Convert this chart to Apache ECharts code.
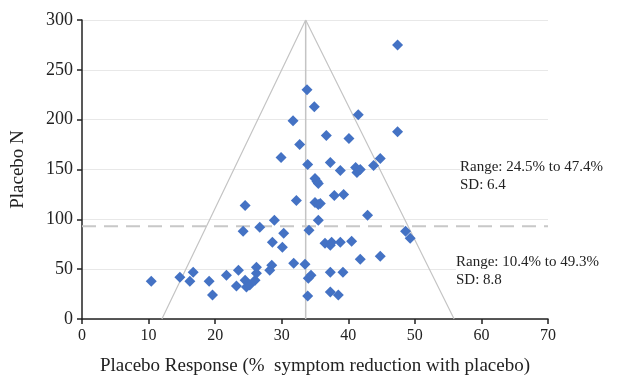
<!DOCTYPE html>
<html>
<head>
<meta charset="utf-8">
<script src="https://cdn.jsdelivr.net/npm/echarts@6/dist/echarts.min.js"></script>
<style>
  html, body { margin: 0; padding: 0; background: #fff; }
  #chart { width: 617px; height: 378px; }
</style>
</head>
<body>
<div id="chart"></div>
<script>
// placebo response (%) and placebo N for each trial
const responsePct = [
  10.4, 14.7, 16.2, 16.7, 19.1, 19.6, 21.7, 23.2, 23.5, 24.5,
  24.7, 25.2, 26.0, 26.2, 26.2, 24.2, 24.5, 26.7, 28.2, 28.5,
  28.6, 28.9, 29.9, 30.1, 30.3, 31.7, 31.8, 32.2, 32.7, 33.5,
  33.8, 33.9, 33.9, 34.1, 34.0, 34.4, 34.9, 35.0, 35.3, 35.5,
  35.0, 35.5, 35.8, 35.5, 36.5, 36.7, 37.3, 37.3, 37.5, 37.3,
  37.3, 37.9, 38.5, 38.8, 38.8, 39.2, 39.3, 40.1, 40.5, 41.1,
  41.3, 41.8, 41.5, 41.8, 42.9, 43.8, 44.8, 44.8, 47.4, 47.4,
  48.6, 49.3
]
const placeboN = [
  38, 42, 38, 47, 38, 24, 44, 33, 49, 39,
  32, 34, 39, 46, 52, 88, 114, 92, 49, 54,
  77, 99, 162, 72, 86, 199, 56, 119, 175, 55,
  230, 155, 23, 89, 41, 44, 213, 141, 138, 136,
  117, 115, 116, 99, 76, 184, 157, 74, 77, 47,
  27, 124, 24, 149, 77, 47, 125, 181, 78, 152,
  147, 150, 205, 60, 104, 154, 161, 63, 188, 275,
  88, 81
]

// funnel outline and reference lines
const funnelX = [12, 33.6, 55.9]
const funnelY = [0, 300, 0]
const meanResponse = 33.6
const splitN = 93

const xTicks = [0, 10, 20, 30, 40, 50, 60, 70]

const chart = echarts.init(document.getElementById("chart"), null, { renderer: "canvas" })

const serif = "'Liberation Serif', 'DejaVu Serif', serif"
const blue = "#4472c4"

chart.setOption({
  animation: false,
  grid: { left: 82, right: 69, top: 20, bottom: 59, outerBoundsMode: "none" },
  xAxis: {
    type: "value",
    min: xTicks[0],
    max: xTicks[xTicks.length - 1],
    interval: 10,
    name: "Placebo Response (%  symptom reduction with placebo)",
    nameLocation: "middle",
    nameGap: 38,
    nameTextStyle: { fontFamily: serif, fontSize: 19, color: "#222" },
    axisLine: { lineStyle: { color: "#222", width: 1.5 } },
    axisTick: { show: true, inside: false, length: 5, lineStyle: { color: "#222", width: 1.5 } },
    axisLabel: { fontFamily: serif, fontSize: 16, color: "#222", margin: 9 },
    splitLine: { show: false },
  },
  yAxis: {
    type: "value",
    min: 0,
    max: 300,
    interval: 50,
    name: "Placebo N",
    nameLocation: "middle",
    nameGap: 54,
    nameRotate: 90,
    nameTextStyle: { fontFamily: serif, fontSize: 19, color: "#222" },
    axisLine: { show: true, lineStyle: { color: "#222", width: 1.5 } },
    axisTick: { show: true, inside: false, length: 5, lineStyle: { color: "#222", width: 1.5 } },
    axisLabel: { fontFamily: serif, fontSize: 18, color: "#222", margin: 9 },
    splitLine: { show: true, lineStyle: { color: "#e8e8e8", width: 1 } },
  },
  series: [
    {
      type: "line",
      data: funnelX.map((x, i) => [x, funnelY[i]]),
      symbol: "none",
      lineStyle: { color: "#c4c4c4", width: 1.2 },
      z: 1,
    },
    {
      type: "line",
      data: [[meanResponse, 0], [meanResponse, 300]],
      symbol: "none",
      lineStyle: { color: "#c4c4c4", width: 1.5 },
      z: 1,
    },
    {
      type: "line",
      data: [[xTicks[0], splitN], [xTicks[xTicks.length - 1], splitN]],
      symbol: "none",
      lineStyle: { color: "#c8c8c8", width: 2, type: [14, 8] },
      z: 1,
    },
    {
      type: "scatter",
      data: responsePct.map((x, i) => [x, placeboN[i]]),
      symbol: "diamond",
      symbolSize: 11,
      itemStyle: { color: blue, opacity: 1 },
      z: 3,
    },
  ],
  graphic: [
    {
      type: "text",
      left: 460,
      top: 158,
      z: 10,
      style: {
        text: "Range: 24.5% to 47.4%\nSD: 6.4",
        font: "15px " + serif,
        fill: "#222",
        lineHeight: 18,
        backgroundColor: "#fff",
      },
    },
    {
      type: "text",
      left: 456,
      top: 253,
      z: 10,
      style: {
        text: "Range: 10.4% to 49.3%\nSD: 8.8",
        font: "15px " + serif,
        fill: "#222",
        lineHeight: 18,
        backgroundColor: "#fff",
      },
    },
  ],
})
</script>
</body>
</html>
